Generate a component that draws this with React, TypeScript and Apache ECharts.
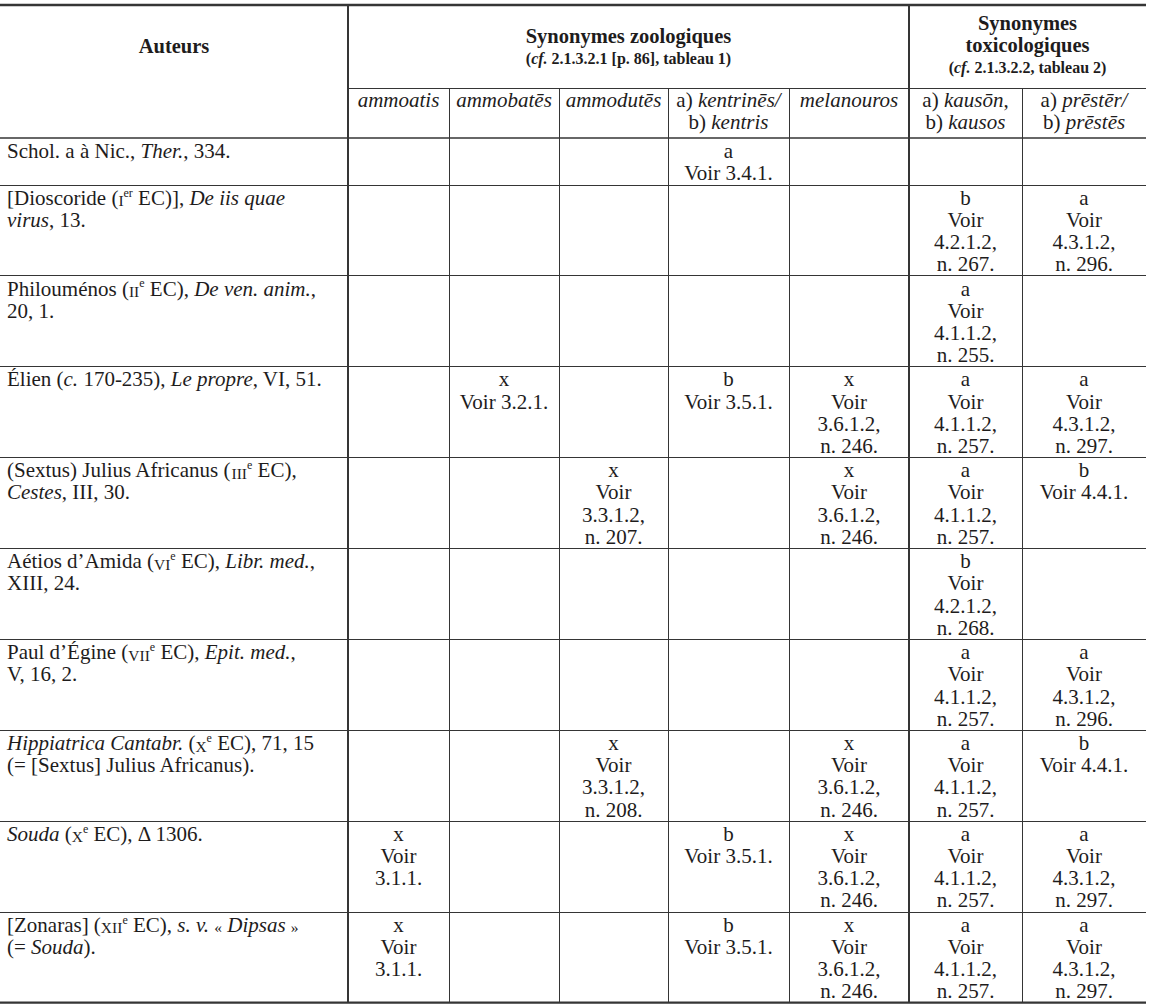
import React, { useEffect, useRef } from "react";
import * as echarts from "echarts";

// ---- Data ----
const headAuthors = "Auteurs";
const groupZooTitle = ["Synonymes zoologiques"];
const groupZooRef = "({bi|cf.} 2.1.3.2.1 [p. 86], tableau 1)";
const groupToxTitle = ["Synonymes", "toxicologiques"];
const groupToxRef = "({bi|cf.} 2.1.3.2.2, tableau 2)";

const columnHeaders = [
  "{i|ammoatis}",
  "{i|ammobatēs}",
  "{i|ammodutēs}",
  "a) {i|kentrinēs/}\nb) {i|kentris}",
  "{i|melanouros}",
  "a) {i|kausōn},\nb) {i|kausos}",
  "a) {i|prēstēr/}\nb) {i|prēstēs}",
];

const authors = [
  "Schol. a à Nic., {i|Ther.}, 334.",
  "[Dioscoride ({sc|I}{sup|er} EC)], {i|De iis quae}\n{i|virus}, 13.",
  "Philouménos ({sc|II}{sup|e} EC), {i|De ven. anim.},\n20, 1.",
  "Élien ({i|c.} 170-235), {i|Le propre}, VI, 51.",
  "(Sextus) Julius Africanus ({sc|III}{sup|e} EC),\n{i|Cestes}, III, 30.",
  "Aétios d’Amida ({sc|VI}{sup|e} EC), {i|Libr. med.},\nXIII, 24.",
  "Paul d’Égine ({sc|VII}{sup|e} EC), {i|Epit. med.},\nV, 16, 2.",
  "{i|Hippiatrica Cantabr.} ({sc|X}{sup|e} EC), 71, 15\n(= [Sextus] Julius Africanus).",
  "{i|Souda} ({sc|X}{sup|e} EC), Δ 1306.",
  "[Zonaras] ({sc|XII}{sup|e} EC), {i|s. v.} {g|«} {i|Dipsas} {g|»}\n(= {i|Souda}).",
];

const ammoatis = ["", "", "", "", "", "", "", "", "x\nVoir\n3.1.1.", "x\nVoir\n3.1.1."];
const ammobates = ["", "", "", "x\nVoir 3.2.1.", "", "", "", "", "", ""];
const ammodutes = ["", "", "", "", "x\nVoir\n3.3.1.2,\nn. 207.", "", "", "x\nVoir\n3.3.1.2,\nn. 208.", "", ""];
const kentrines = ["a\nVoir 3.4.1.", "", "", "b\nVoir 3.5.1.", "", "", "", "", "b\nVoir 3.5.1.", "b\nVoir 3.5.1."];
const melanouros = ["", "", "", "x\nVoir\n3.6.1.2,\nn. 246.", "x\nVoir\n3.6.1.2,\nn. 246.", "", "", "x\nVoir\n3.6.1.2,\nn. 246.", "x\nVoir\n3.6.1.2,\nn. 246.", "x\nVoir\n3.6.1.2,\nn. 246."];
const kauson = ["", "b\nVoir\n4.2.1.2,\nn. 267.", "a\nVoir\n4.1.1.2,\nn. 255.", "a\nVoir\n4.1.1.2,\nn. 257.", "a\nVoir\n4.1.1.2,\nn. 257.", "b\nVoir\n4.2.1.2,\nn. 268.", "a\nVoir\n4.1.1.2,\nn. 257.", "a\nVoir\n4.1.1.2,\nn. 257.", "a\nVoir\n4.1.1.2,\nn. 257.", "a\nVoir\n4.1.1.2,\nn. 257."];
const prester = ["", "a\nVoir\n4.3.1.2,\nn. 296.", "", "a\nVoir\n4.3.1.2,\nn. 297.", "b\nVoir 4.4.1.", "", "a\nVoir\n4.3.1.2,\nn. 296.", "b\nVoir 4.4.1.", "a\nVoir\n4.3.1.2,\nn. 297.", "a\nVoir\n4.3.1.2,\nn. 297."];

const dataColumns = [ammoatis, ammobates, ammodutes, kentrines, melanouros, kauson, prester];

// ---- Layout / style ----
const W = 1149;
const H = 1006;
const FONT = "'Liberation Serif', 'Times New Roman', serif";
const INK = "#1e1c1c";
const RULE = "#353535";
const FS = 21;
const LH = 22.2;
const colEdges = [0, 348, 449, 559, 668, 789, 909, 1022, 1146];
const tableTop = 5;
const head1Bottom = 88;
const head2Bottom = 138;

const base = { fontFamily: FONT, fontSize: FS, fill: INK, lineHeight: LH, fontStyle: "normal", fontWeight: "normal" };
const richBody = {
  i: { ...base, fontStyle: "italic" },
  sc: { ...base, fontSize: 15.5, lineHeight: 18, verticalAlign: "bottom" },
  sup: { ...base, fontSize: 12, lineHeight: 12, verticalAlign: "top" },
  g: { ...base, fontSize: 15.5, lineHeight: 18, verticalAlign: "bottom" },
};

function lines(s: string) {
  return s ? s.split("\n").length : 0;
}

function buildGraphic() {
  const els: any[] = [];
  const txt = (x: number, y: number, text: string, align: string, extra: any = {}) => {
    els.push({
      type: "text",
      x,
      y,
      silent: true,
      style: { ...base, text, align, verticalAlign: "top", rich: richBody, ...extra },
    });
  };
  const hline = (x1: number, x2: number, y: number, w: number) =>
    els.push({ type: "line", silent: true, shape: { x1, y1: y, x2, y2: y }, style: { stroke: RULE, lineWidth: w } });
  const vline = (x: number, y1: number, y2: number, w: number) =>
    els.push({ type: "line", silent: true, shape: { x1: x, y1, x2: x, y2 }, style: { stroke: RULE, lineWidth: w } });

  // row boundaries from content line counts
  const rowTops: number[] = [head2Bottom];
  authors.forEach((a, r) => {
    let n = lines(a);
    dataColumns.forEach((c) => (n = Math.max(n, lines(c[r]))));
    rowTops.push(rowTops[rowTops.length - 1] + n * LH + 2.1);
  });
  const tableBottom = rowTops[rowTops.length - 1];
  const right = colEdges[colEdges.length - 1];

  // rules
  hline(0, right, tableTop, 2.4);
  hline(colEdges[1], right, head1Bottom + 0.5, 1);
  hline(0, right, head2Bottom, 1.6);
  for (let r = 1; r < rowTops.length - 1; r++) hline(0, right, Math.round(rowTops[r]) + 0.5, 1);
  hline(0, right, tableBottom, 2.4);
  vline(colEdges[1], tableTop, tableBottom, 2);
  vline(colEdges[6], tableTop, tableBottom, 2);
  [2, 3, 4, 5, 7].forEach((i) => vline(colEdges[i] + 0.5, head1Bottom, tableBottom, 1));

  // header row 1
  const boldRich = {
    bi: { ...base, fontSize: 16, lineHeight: 20, fontWeight: "bold", fontStyle: "italic" },
  };
  const bold = { fontWeight: "bold", fontSize: 20.5, lineHeight: 22, rich: boldRich };
  const sub = { fontWeight: "bold", fontSize: 16, lineHeight: 20, rich: boldRich };
  txt((colEdges[0] + colEdges[1]) / 2, 35, headAuthors, "center", bold);
  const zooX = (colEdges[1] + colEdges[6]) / 2;
  groupZooTitle.forEach((t, k) => txt(zooX, 25 + k * 22, t, "center", bold));
  txt(zooX, 48, groupZooRef, "center", sub);
  const toxX = (colEdges[6] + colEdges[8]) / 2;
  groupToxTitle.forEach((t, k) => txt(toxX, 12 + k * 22, t, "center", bold));
  txt(toxX, 57, groupToxRef, "center", sub);

  // header row 2
  columnHeaders.forEach((h, i) => {
    txt((colEdges[i + 1] + colEdges[i + 2]) / 2, head1Bottom + 1, h, "center");
  });

  // body
  authors.forEach((a, r) => {
    const top = rowTops[r] + 2;
    txt(7, top, a, "left");
    dataColumns.forEach((c, i) => {
      if (c[r]) txt((colEdges[i + 1] + colEdges[i + 2]) / 2, top, c[r], "center");
    });
  });
  return els;
}

export default function App() {
  const ref = useRef<HTMLDivElement>(null);
  useEffect(() => {
    if (!ref.current) return;
    const chart = echarts.init(ref.current, null, { renderer: "svg" });
    chart.setOption({
      animation: false,
      backgroundColor: "#ffffff",
      graphic: { elements: buildGraphic() },
    });
    return () => chart.dispose();
  }, []);
  return (
    <div
      ref={ref}
      style={{ position: "absolute", left: 0, top: 0, width: W, height: H, background: "#fff" }}
    />
  );
}
